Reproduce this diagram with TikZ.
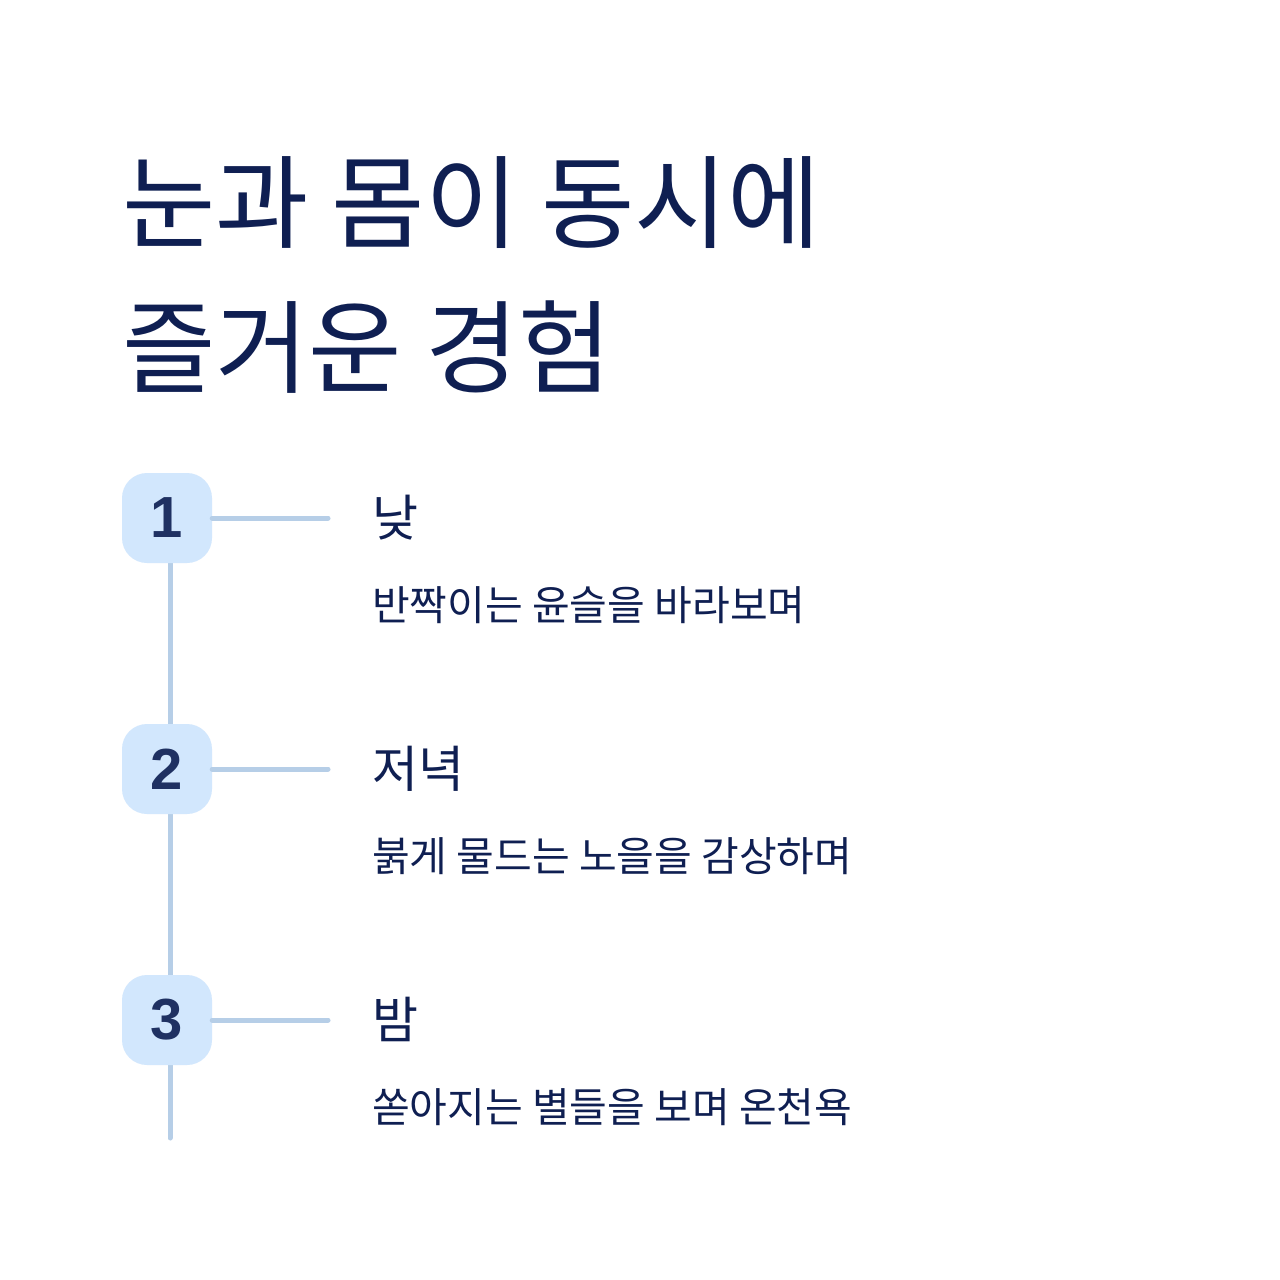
\documentclass[tikz,border=0pt]{standalone}
\usepackage{fontspec}
\newfontfamily\kr{Noto Sans CJK KR}
\newfontfamily\numf{Liberation Sans}
\definecolor{navy}{HTML}{0F1F52}
\definecolor{numcol}{HTML}{1F3162}
\definecolor{boxfill}{HTML}{D2E7FD}
\definecolor{linecol}{HTML}{B6CEE7}
\tikzset{
  stepbox/.style={fill=boxfill, rounded corners=25pt, minimum width=90pt, minimum height=90pt, inner sep=0pt, text=numcol, font=\numf\bfseries\fontsize{58}{58}\selectfont},
  conn/.style={draw=linecol, line width=5pt, line cap=round},
  head/.style={anchor=base west, inner sep=0pt, text=navy, font=\kr\fontsize{50}{50}\selectfont},
  desc/.style={anchor=base west, inner sep=0pt, text=navy, font=\kr\fontsize{41}{41}\selectfont},
  ttl/.style={anchor=base west, inner sep=0pt, text=navy, font=\kr\fontsize{101.5}{101.5}\selectfont},
}
\begin{document}
\begin{tikzpicture}[x=1pt,y=-1pt]
\useasboundingbox[fill=white] (0,0) rectangle (1280,1280);
\coordinate (lend) at (170,1138);
\draw[conn] (170,518) -- (lend);
\node[stepbox] (b1) at (167,518) {1};
\node[stepbox] (b2) at (167,769) {2};
\node[stepbox] (b3) at (167,1020) {3};
\coordinate (e1) at (328,518);
\coordinate (e2) at (328,769);
\coordinate (e3) at (328,1020);
\draw[conn] (b1.east) -- (e1);
\draw[conn] (b2.east) -- (e2);
\draw[conn] (b3.east) -- (e3);
\node[ttl] (t1) at (122,240) {눈과 몸이 동시에};
\node[ttl] (t2) at (122,385) {즐거운 경험};
\node[head] (h1) at (372,536) {낮};
\node[desc] (d1) at (372,620) {반짝이는 윤슬을 바라보며};
\node[head] (h2) at (372,787) {저녁};
\node[desc] (d2) at (372,871) {붉게 물드는 노을을 감상하며};
\node[head] (h3) at (372,1038) {밤};
\node[desc] (d3) at (372,1122) {쏟아지는 별들을 보며 온천욕};
\end{tikzpicture}
\end{document}
